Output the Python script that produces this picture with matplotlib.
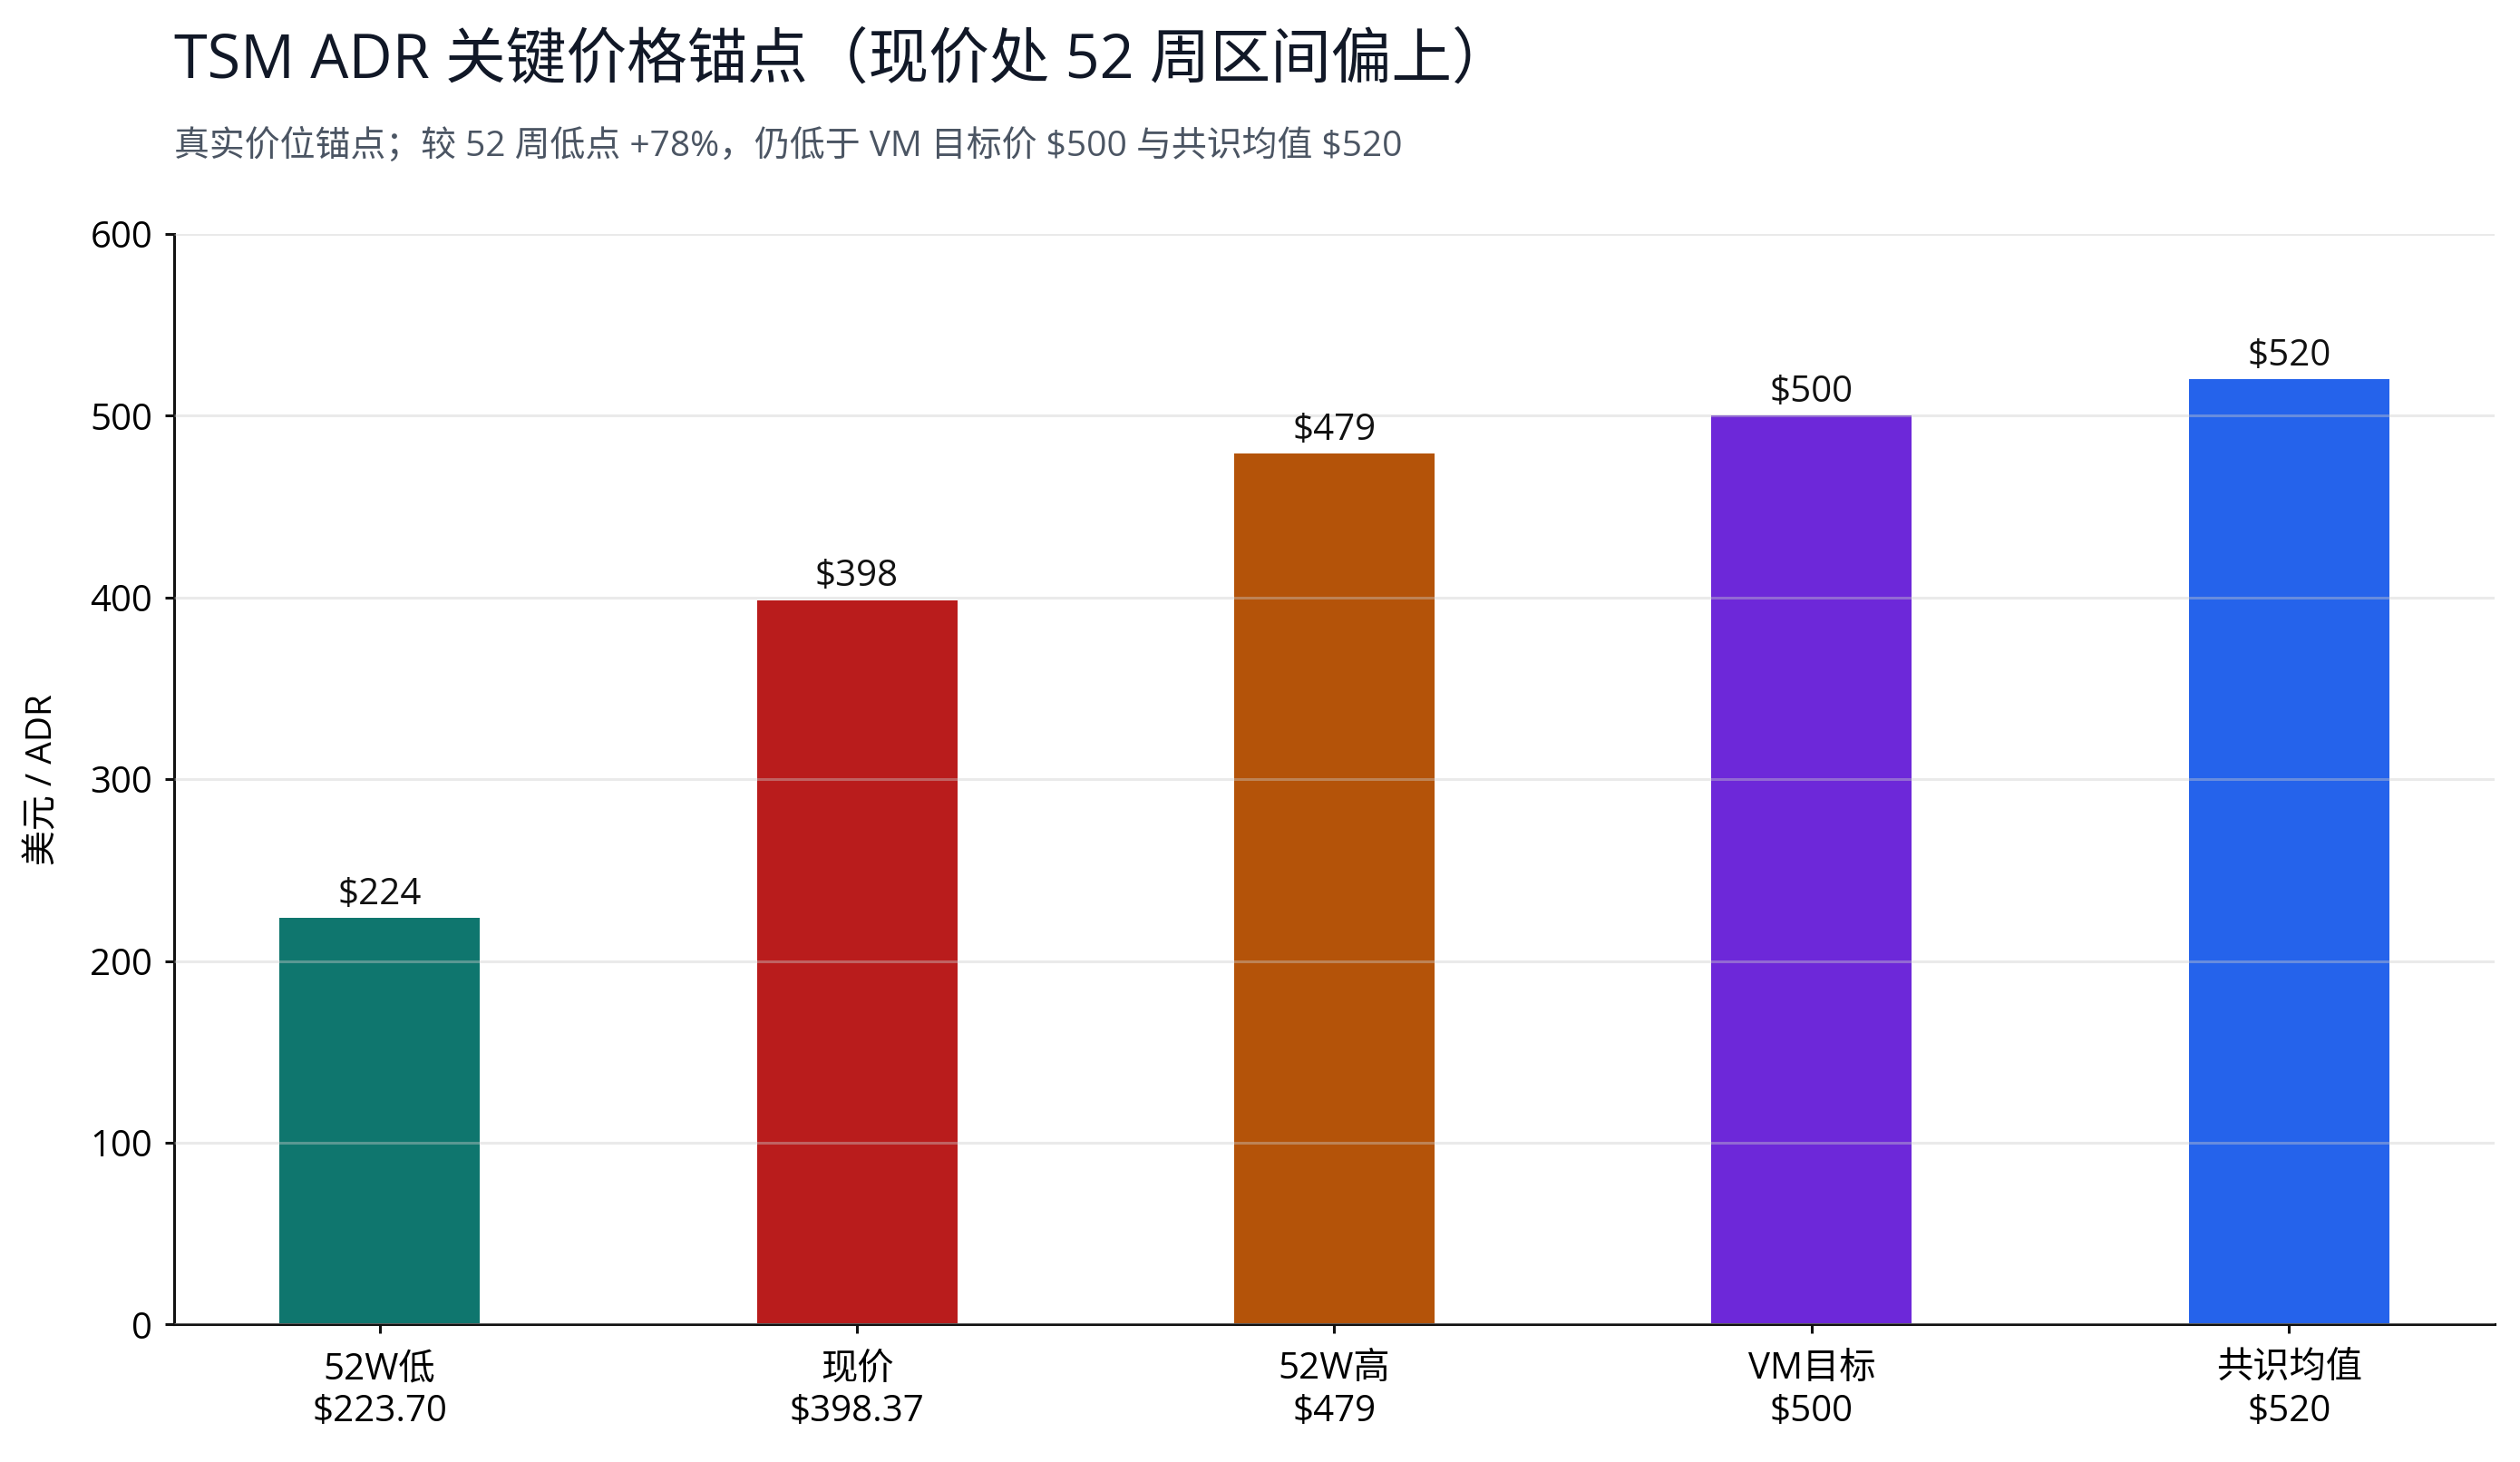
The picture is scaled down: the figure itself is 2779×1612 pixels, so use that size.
import matplotlib
matplotlib.use("Agg")
import matplotlib.pyplot as plt

plt.rcParams['font.family'] = ['Open Sans', 'Noto Sans CJK SC', 'DejaVu Sans']

# data
labels = ["52W低", "现价", "52W高", "VM目标", "共识均值"]
tick_prices = ["$223.70", "$398.37", "$479", "$500", "$520"]
values = [223.70, 398.37, 479, 500, 520]
colors = ["#0f766e", "#b91c1c", "#b45309", "#6d28d9", "#2563eb"]

title = "TSM ADR 关键价格锚点（现价处 52 周区间偏上）"
subtitle = r"真实价位锚点；较 52 周低点 +78%，仍低于 VM 目标价 \$500 与共识均值 \$520"

fig = plt.figure(figsize=(13.895, 8.06), dpi=200)
ax = fig.add_axes([0.069, 0.094, 0.921, 0.746])

x = list(range(len(labels)))
bars = ax.bar(x, values, width=0.42, color=colors)
for b, v in zip(bars, values):
    ax.annotate(f"${v:.0f}", (b.get_x() + b.get_width() / 2, v),
                xytext=(0, 2), textcoords="offset points",
                ha="center", va="bottom", fontsize=14.5, color="#111111")

ax.set_xticks(x)
ax.set_xticklabels([f"{l}\n{p}" for l, p in zip(labels, tick_prices)],
                   fontsize=14.5, linespacing=1.2)
ax.set_ylim(0, 600)
ax.set_yticks(range(0, 601, 100))
ax.tick_params(axis="y", labelsize=14.5, pad=5)
ax.tick_params(axis="x", pad=7)
ax.tick_params(axis="both", width=1.1, color="#111111")
ax.set_ylabel("美元 / ADR", fontsize=14, labelpad=12)
ax.yaxis.grid(True, color="#cccccc", linewidth=1.1, alpha=0.4)
ax.set_axisbelow(False)
for s in ["top", "right"]:
    ax.spines[s].set_visible(False)
for s in ["left", "bottom"]:
    ax.spines[s].set_linewidth(1.1)
    ax.spines[s].set_color("#111111")

fig.text(0.069, 0.958, title, fontsize=24, color="#111827", ha="left", va="center")
fig.text(0.069, 0.9, subtitle, fontsize=14, color="#4b5563", ha="left", va="center")

fig.savefig("out.png", dpi=200)
